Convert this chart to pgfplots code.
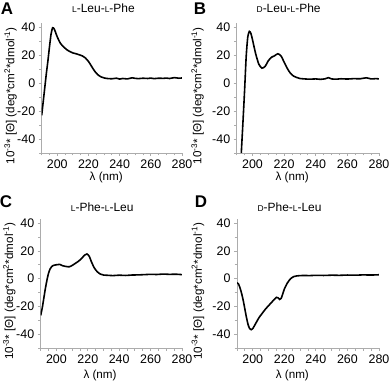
\documentclass[border=0pt]{standalone}
\usepackage{fontspec}
\setmainfont{Liberation Sans}
\usepackage{pgfplots}
\pgfplotsset{compat=1.18}

\newcommand{\sm}[1]{{\fontsize{8.5}{9}\selectfont #1}}
\newcommand{\ylab}{10\textsuperscript{-3}* [Θ] (deg*cm\textsuperscript{2}*dmol\textsuperscript{-1})}

\pgfplotsset{
  cdpanel/.style={
    scale only axis,
    xmin=190, xmax=280, ymin=-50, ymax=43,
    axis x line*=bottom, axis y line*=left,
    axis line style={gray!65, line width=0.9pt},
    tick style={gray!65, line width=0.8pt},
    tick align=outside,
    major tick length=3bp, minor tick length=2.5bp,
    xtick={200,220,...,280}, minor xtick={190,195,...,280},
    ytick={-40,-20,...,40}, minor ytick={-50,-30,...,30},
    yticklabels={-40,-20,0,20,40},
    /pgf/number format/assume math mode=true,
    tick label style={font=\fontsize{12.5}{13}\selectfont},
    xlabel={λ (nm)},
    ylabel={\ylab},
    label style={font=\fontsize{11.7}{12}\selectfont},
    every axis title shift=0pt,
    title style={font=\fontsize{12}{13}\selectfont, anchor=center},
    clip=true,
  },
  cdline/.style={black, line width=1.6pt, smooth, tension=0.4},
}

\begin{document}
\begin{tikzpicture}
\useasboundingbox (0,0) rectangle (392bp,384bp);

% A
\begin{axis}[cdpanel, at={(41.7bp,231bp)}, anchor=south west,
  width=140.3bp, height=130bp,
  title={\sm{L}-Leu-\sm{L}-Phe},
  title style={at={(axis description cs:0.44,1.115)}},
  xlabel style={at={(axis description cs:0.46,-0.185)}, anchor=center},
  ylabel style={at={(axis description cs:-0.222,0.44)}, anchor=center}]
\addplot[cdline] coordinates {
  (190,-23) (191,-13) (192,-3) (193,7) (194,16) (195,26) (196,35) (197,39.6)
  (198,38.8) (199,36) (200,33) (202,28.5) (204,26) (206,24) (208,22.6)
  (210,21.6) (212,21) (214,20.3) (216,19.5) (218,18) (220,15.5) (222,12)
  (224,8.5) (226,6) (228,4.5) (230,3.7) (232,3.3) (235,3.1) (238,3.5)
  (240,2.9) (242,3.3) (245,3.0) (248,3.8) (250,3.4) (252,3.2) (255,3.5)
  (258,3.3) (260,3.6) (262,3.2) (265,3.5) (268,3.4) (270,3.6) (272,3.3)
  (275,3.9) (278,3.5) (280,3.7)
};
\end{axis}

% B
\begin{axis}[cdpanel, at={(236.7bp,231bp)}, anchor=south west,
  width=142.3bp, height=130bp,
  title={\sm{D}-Leu-\sm{L}-Phe},
  title style={at={(axis description cs:0.365,1.115)}},
  xlabel style={at={(axis description cs:0.39,-0.185)}, anchor=center},
  ylabel style={at={(axis description cs:-0.275,0.44)}, anchor=center}]
\addplot[cdline] coordinates {
  (192,-70) (193,-48) (194,-27) (195,-5) (196,19) (197,33) (198,37)
  (199,35.5) (200,31) (202,21) (204,13.5) (206,10.7) (208,12) (210,16)
  (212,18.5) (214,19.6) (216,21) (218,19.5) (220,15) (222,10.5) (224,7)
  (226,5) (228,4) (230,3.3) (233,3.0) (236,2.8) (240,3.0) (243,2.7)
  (246,3.1) (248,3.9) (250,3.0) (253,2.8) (256,3.1) (260,2.9) (264,3.2)
  (268,3.1) (272,3.8) (275,3.0) (278,3.2) (280,3.0)
};
\end{axis}

% C
\begin{axis}[cdpanel, at={(40.7bp,36bp)}, anchor=south west,
  width=141.3bp, height=129bp,
  title={\sm{L}-Phe-\sm{L}-Leu},
  title style={at={(axis description cs:0.435,1.095)}},
  xlabel style={at={(axis description cs:0.42,-0.215)}, anchor=center},
  ylabel style={at={(axis description cs:-0.222,0.44)}, anchor=center}]
\addplot[cdline] coordinates {
  (190,-26.5) (191,-21) (192,-14) (193,-7) (194,-1) (195,4) (196,7)
  (197,8.7) (198,9.5) (200,10) (202,10.3) (204,9.3) (206,8.8) (208,8.5)
  (210,9.5) (212,11) (214,12.5) (216,14.5) (218,17) (219.5,17.8) (221,16)
  (222,13) (224,8) (226,5) (228,3.3) (230,2.6) (233,2.4) (236,2.2)
  (240,2.5) (244,2.3) (248,2.6) (252,2.7) (256,2.9) (260,3.1) (264,3.0)
  (268,3.3) (272,3.1) (276,3.2) (280,2.9)
};
\end{axis}

% D
\begin{axis}[cdpanel, at={(237bp,36bp)}, anchor=south west,
  width=142bp, height=129bp,
  title={\sm{D}-Phe-\sm{L}-Leu},
  title style={at={(axis description cs:0.37,1.095)}},
  xlabel style={at={(axis description cs:0.39,-0.215)}, anchor=center},
  ylabel style={at={(axis description cs:-0.275,0.44)}, anchor=center}]
\addplot[cdline] coordinates {
  (190,-3) (191,-4) (192,-7) (193,-11) (194,-16) (195,-22) (196,-28)
  (197,-33) (198,-36) (199,-36.8) (200,-36) (202,-32) (204,-28) (206,-25)
  (208,-22) (210,-19.5) (212,-17) (214,-14.5) (215,-13.5) (216,-13.8)
  (217,-15) (218,-14.2) (219,-11) (220,-7.5) (222,-3) (224,0) (226,1.5)
  (228,2) (232,2.3) (236,2.2) (240,2.4) (245,2.3) (250,2.5) (255,2.4)
  (260,2.6) (265,2.5) (270,2.7) (275,2.6) (280,2.8)
};
\end{axis}

% panel letters
\node[font=\bfseries\fontsize{17}{18}\selectfont] at (7bp,375.5bp) {A};
\node[font=\bfseries\fontsize{17}{18}\selectfont] at (200bp,375.5bp) {B};
\node[font=\bfseries\fontsize{17}{18}\selectfont] at (6bp,182bp) {C};
\node[font=\bfseries\fontsize{17}{18}\selectfont] at (201bp,182bp) {D};
\end{tikzpicture}
\end{document}
